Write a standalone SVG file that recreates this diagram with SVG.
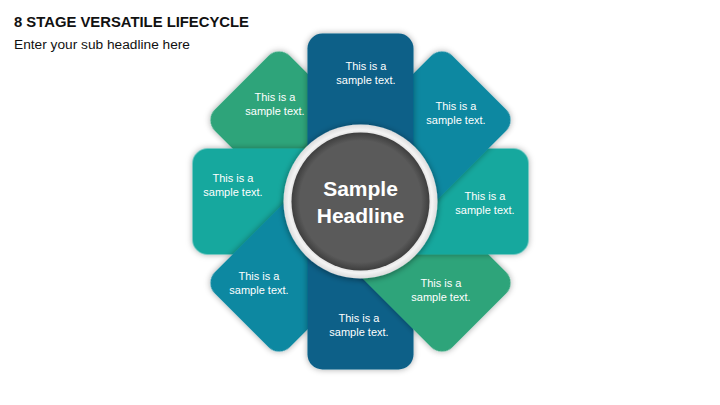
<svg xmlns="http://www.w3.org/2000/svg" width="720" height="405" viewBox="0 0 720 405">
  <defs>
    <filter id="sh" x="-30%" y="-30%" width="160%" height="160%">
      <feDropShadow dx="0" dy="0" stdDeviation="3" flood-color="#000" flood-opacity="0.35"/>
    </filter>
    <filter id="csh" x="-30%" y="-30%" width="160%" height="160%">
      <feDropShadow dx="0" dy="1" stdDeviation="3" flood-color="#000" flood-opacity="0.45"/>
    </filter>
    <radialGradient id="ring" cx="0.5" cy="0.5" r="0.5">
      <stop offset="0.85" stop-color="#cfcfcf"/>
      <stop offset="0.93" stop-color="#f4f4f4"/>
      <stop offset="1" stop-color="#dcdcdc"/>
    </radialGradient>
    <radialGradient id="core" cx="0.5" cy="0.5" r="0.5">
      <stop offset="0.88" stop-color="#5a5a5a"/>
      <stop offset="1" stop-color="#3e3e3e"/>
    </radialGradient>
    <rect id="petal" x="-53" y="-168" width="106" height="178" rx="15" ry="15"/>
  </defs>
  <style>
    .title { font-family: "Liberation Sans", Arial, sans-serif; font-weight: bold; font-size: 15px; fill: #111; }
    .sub { font-family: "Liberation Sans", Arial, sans-serif; font-size: 13.7px; fill: #111; }
    .pt { font-family: "Liberation Sans", Arial, sans-serif; font-size: 11px; fill: #ffffff; text-anchor: middle; }
    .hd { font-family: "Liberation Sans", Arial, sans-serif; font-weight: bold; font-size: 21px; fill: #ffffff; text-anchor: middle; }
    .c1 { fill: #0c6088; }
    .c2 { fill: #0f88a1; }
    .c3 { fill: #13a89e; }
    .c4 { fill: #2fa47a; }
  </style>
  <rect width="720" height="405" fill="#ffffff"/>
  <text class="title" x="14" y="27" textLength="235" lengthAdjust="spacingAndGlyphs">8 STAGE VERSATILE LIFECYCLE</text>
  <text class="sub" x="14" y="49" textLength="176" lengthAdjust="spacingAndGlyphs">Enter your sub headline here</text>

  <g id="connectors"></g>

  <g id="petal-tl">
    <use href="#petal" class="c4" filter="url(#sh)" transform="translate(360.5,201.5) rotate(-45)"/>
    <text class="pt" x="275" y="101">This is a</text>
    <text class="pt" x="275" y="115">sample text.</text>
  </g>
  <g id="petal-l">
    <use href="#petal" class="c3" filter="url(#sh)" transform="translate(360.5,201.5) rotate(-90)"/>
    <text class="pt" x="233" y="182">This is a</text>
    <text class="pt" x="233" y="196">sample text.</text>
  </g>
  <g id="petal-bl">
    <use href="#petal" class="c2" filter="url(#sh)" transform="translate(360.5,201.5) rotate(-135)"/>
    <text class="pt" x="259" y="280">This is a</text>
    <text class="pt" x="259" y="294">sample text.</text>
  </g>
  <g id="petal-b">
    <use href="#petal" class="c1" filter="url(#sh)" transform="translate(360.5,201.5) rotate(180)"/>
    <text class="pt" x="359" y="322">This is a</text>
    <text class="pt" x="359" y="336">sample text.</text>
  </g>
  <g id="petal-br">
    <use href="#petal" class="c4" filter="url(#sh)" transform="translate(360.5,201.5) rotate(135)"/>
    <text class="pt" x="441" y="287">This is a</text>
    <text class="pt" x="441" y="301">sample text.</text>
  </g>
  <g id="petal-r">
    <use href="#petal" class="c3" filter="url(#sh)" transform="translate(360.5,201.5) rotate(90)"/>
    <text class="pt" x="485" y="200">This is a</text>
    <text class="pt" x="485" y="214">sample text.</text>
  </g>
  <g id="petal-tr">
    <use href="#petal" class="c2" filter="url(#sh)" transform="translate(360.5,201.5) rotate(45)"/>
    <text class="pt" x="456" y="110">This is a</text>
    <text class="pt" x="456" y="124">sample text.</text>
  </g>
  <g id="petal-t">
    <use href="#petal" class="c1" filter="url(#sh)" transform="translate(360.5,201.5)"/>
    <text class="pt" x="366" y="70">This is a</text>
    <text class="pt" x="366" y="84">sample text.</text>
  </g>

  <g id="center">
    <circle cx="360.5" cy="201.5" r="77" fill="url(#ring)" filter="url(#csh)"/>
    <circle cx="360.5" cy="201.5" r="69" fill="url(#core)"/>
    <text class="hd" x="360.5" y="196">Sample</text>
    <text class="hd" x="360.5" y="223">Headline</text>
  </g>
</svg>
